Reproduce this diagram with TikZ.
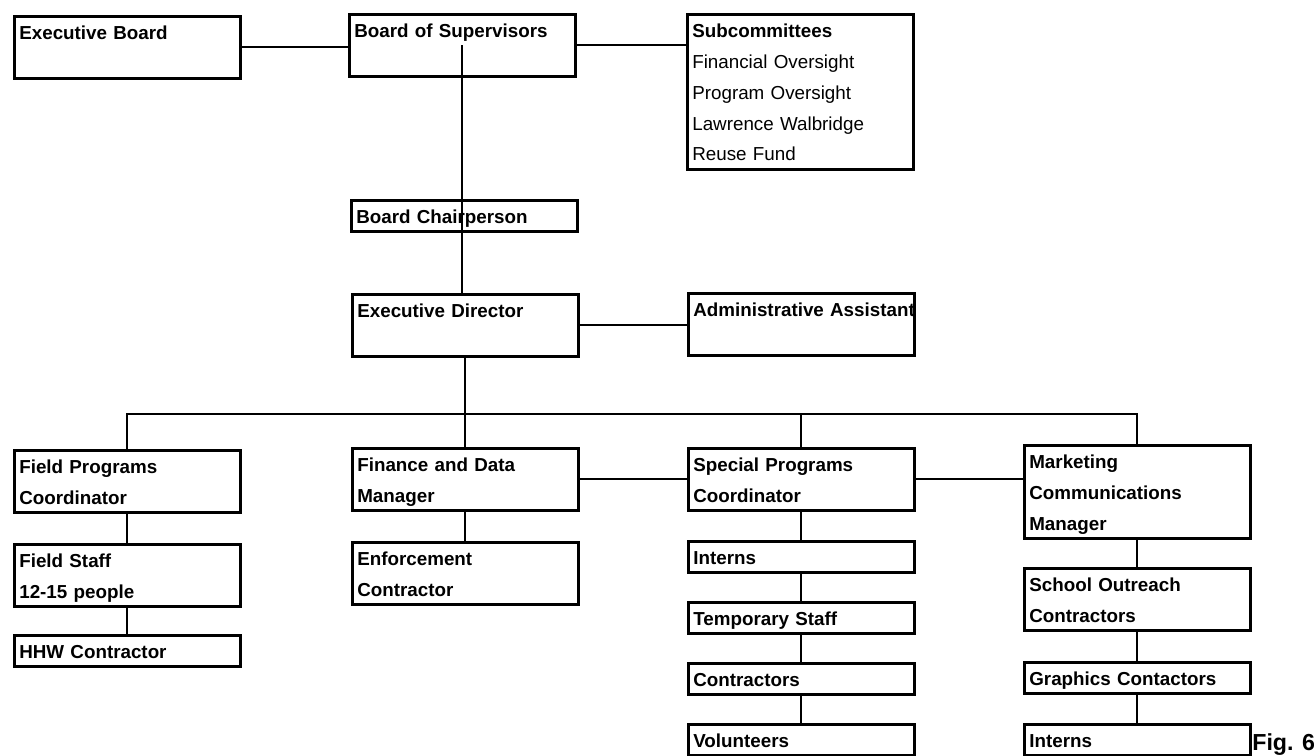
\documentclass[tikz,border=0pt]{standalone}
\usepackage{fontspec}
\setmainfont{Liberation Sans}
\newcommand{\orgfont}{\fontsize{10.7}{17.6}\selectfont\bfseries}
\tikzset{
  post/.style={draw, rectangle, line width=1.5pt, anchor=north west, inner ysep=0pt, inner xsep=0.1cm,
    text width=4.32cm, align=left, text height=0.46cm, font=\orgfont},
  onerow/.style={post, text depth=0.16cm},
  tworows/.style={post, text depth=0.78cm},
  threerows/.style={post, text depth=1.40cm},
  fiverows/.style={post, text depth=2.64cm},
  link/.style={line width=1.2pt}
}
\begin{document}
\begin{tikzpicture}[x=0.02cm, y=-0.02cm]
        \useasboundingbox (0,0) rectangle (1314,756);
        % board level
        \node[tworows] (EB) at (13,15){Executive Board};
        \node[tworows] (BoS) at (348,13){Board of Supervisors};
        \node[fiverows] (Sub) at (686,13){Subcommittees\\\mdseries Financial Oversight\\Program Oversight\\Lawrence Walbridge\\Reuse Fund};
        \node[onerow] (BC) at (350,199){Board Chairperson};
        \node[tworows] (ED) at (351,293){Executive Director};
        \node[tworows] (AA) at (687,292){\mbox{Administrative Assistant}};
        % field programs
        \node[tworows] (FPC) at (13,449){Field Programs\\Coordinator};
        \node[tworows] (FS) at (13,543){Field Staff\\12-15 people};
        \node[onerow] (HHW) at (13,634){HHW Contractor};
        % finance
        \node[tworows] (FDM) at (351,447){Finance and Data\\Manager};
        \node[tworows] (EC) at (351,541){Enforcement\\Contractor};
        % special programs
        \node[tworows] (SPC) at (687,447){Special Programs\\Coordinator};
        \node[onerow] (SPI) at (687,540){Interns};
        \node[onerow] (TS) at (687,601){Temporary Staff};
        \node[onerow] (SPCo) at (687,662){Contractors};
        \node[onerow] (Vol) at (687,723){Volunteers};
        % marketing
        \node[threerows] (MCM) at (1023,444){Marketing\\Communications\\Manager};
        \node[tworows] (SOC) at (1023,567){School Outreach\\Contractors};
        \node[onerow] (GC) at (1023,661){Graphics Contactors};
        \node[onerow] (MI) at (1023,723){Interns};
        \node[anchor=base west, inner sep=0pt, font=\fontsize{13.2}{16}\selectfont\bfseries] (fig) at (1252,750){Fig. 6};
        \coordinate (bus) at (463,414);
        % connectors
        \draw[link] (EB.east) -- (EB.east -| BoS.west);
        \draw[link] (BoS.east) -- (BoS.east -| Sub.west);
        \draw[link] (BoS.center) -- (BoS.center |- ED.north);
        \draw[link] (ED.east) -- (ED.east -| AA.west);
        \draw[link] (ED.south) -- (ED.south |- FDM.north);
        \draw[link] (FPC.north) |- (bus) -| (MCM.north);
        \draw[link] (SPC.north) -- (SPC.north |- bus);
        \draw[link] (FDM.east) -- (FDM.east -| SPC.west);
        \draw[link] (SPC.east) -- (SPC.east -| MCM.west);
        \draw[link] (FPC) -- (FS);
        \draw[link] (FS) -- (HHW);
        \draw[link] (FDM) -- (EC);
        \draw[link] (SPC) -- (SPI);
        \draw[link] (SPI) -- (TS);
        \draw[link] (TS) -- (SPCo);
        \draw[link] (SPCo) -- (Vol);
        \draw[link] (MCM) -- (SOC);
        \draw[link] (SOC) -- (GC);
        \draw[link] (GC) -- (MI);
    \end{tikzpicture}
\end{document}
